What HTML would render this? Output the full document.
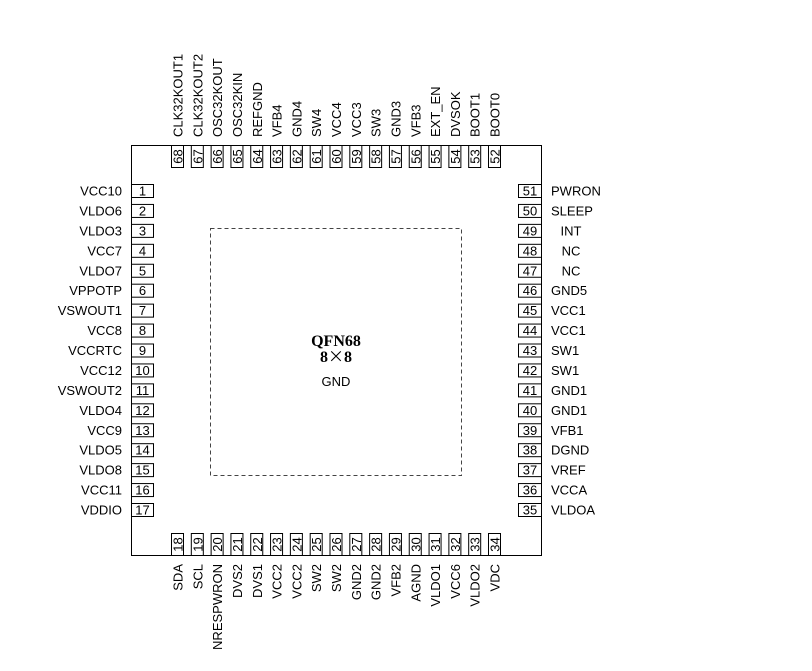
<!DOCTYPE html>
<html><head><meta charset="utf-8"><style>
html,body{margin:0;padding:0;background:#fff;}
svg{display:block;font-family:"Liberation Sans",Arial,sans-serif;}
</style></head><body>
<svg id="chip" width="812" height="671" viewBox="0 0 812 671">
<rect x="131.5" y="145.5" width="410" height="410" fill="none" stroke="#000" stroke-width="1"/>
<rect x="210.5" y="228.5" width="251" height="247" fill="none" stroke="#444" stroke-width="1" stroke-dasharray="4,3"/>
<text x="336" y="346" text-anchor="middle" font-family="'Liberation Serif',serif" font-weight="bold" font-size="16">QFN68</text>
<text x="336" y="362" text-anchor="middle" font-family="'Liberation Serif','Noto Serif CJK SC',serif" font-weight="bold" font-size="16">8<tspan font-family="'Noto Sans CJK SC',sans-serif" font-weight="normal">×</tspan>8</text>
<text x="336" y="386" text-anchor="middle" font-size="13">GND</text>
<g id="pins"></g>
</svg>
<script>
const leftPins=["VCC10","VLDO6","VLDO3","VCC7","VLDO7","VPPOTP","VSWOUT1","VCC8","VCCRTC","VCC12","VSWOUT2","VLDO4","VCC9","VLDO5","VLDO8","VCC11","VDDIO"];
const bottomPins=["SDA","SCL","NRESPWRON","DVS2","DVS1","VCC2","VCC2","SW2","SW2","GND2","GND2","VFB2","AGND","VLDO1","VCC6","VLDO2","VDC"];
const rightPins=["VLDOA","VCCA","VREF","DGND","VFB1","GND1","GND1","SW1","SW1","VCC1","VCC1","GND5","NC","NC","INT","SLEEP","PWRON"];
const topPins=["BOOT0","BOOT1","DVSOK","EXT_EN","VFB3","GND3","SW3","VCC3","VCC4","SW4","GND4","VFB4","REFGND","OSC32KIN","OSC32KOUT","CLK32KOUT2","CLK32KOUT1"];
const NS="http://www.w3.org/2000/svg";
const g=document.getElementById('pins');
function mk(tag,attrs,txt){const e=document.createElementNS(NS,tag);for(const k in attrs)e.setAttribute(k,attrs[k]);if(txt!==undefined)e.textContent=txt;g.appendChild(e);return e;}
const pitchV=(503-184)/16, pitchH=(488-171)/16;
leftPins.forEach((n,i)=>{const y=184+i*pitchV;
 const b=mk('rect',{x:131.5,y:y+0.5,width:22,height:13,fill:'#fff',stroke:'#000'});
 
 
 const t=mk('text',{x:142.5,y:y+11.5,'text-anchor':'middle','font-size':13},String(i+1));
 
 
 const l=mk('text',{x:122,y:y+11.5,'text-anchor':'end','font-size':13},n);
 
 
});
rightPins.forEach((n,i)=>{const y=503-i*pitchV;
 const b=mk('rect',{x:518.5,y:y+0.5,width:23,height:13,fill:'#fff',stroke:'#000'});
 
 
 const t=mk('text',{x:530,y:y+11.5,'text-anchor':'middle','font-size':13},String(35+i));
 
 
 let attrs={x:551,y:y+11.5,'font-size':13};
 if(n==='INT'||n==='NC'){attrs.x=571;attrs['text-anchor']='middle';}
 const l=mk('text',attrs,n);
 
 
});
topPins.forEach((n,i)=>{const x=488-i*pitchH;
 const b=mk('rect',{x:x+0.5,y:145.5,width:12,height:22,fill:'#fff',stroke:'#000'});
 
 
 const t=mk('text',{x:0,y:0,'text-anchor':'middle','font-size':13,transform:`translate(${x+11.5},156.5) rotate(-90)`},String(52+i));
 
 
 const l=mk('text',{x:0,y:0,'font-size':13,transform:`translate(${x+11.5},137) rotate(-90)`},n);
 
 
});
bottomPins.forEach((n,i)=>{const x=171+i*pitchH;
 const b=mk('rect',{x:x+0.5,y:533.5,width:12,height:22,fill:'#fff',stroke:'#000'});
 
 
 const t=mk('text',{x:0,y:0,'text-anchor':'middle','font-size':13,transform:`translate(${x+11.5},544.5) rotate(-90)`},String(18+i));
 
 
 const l=mk('text',{x:0,y:0,'font-size':13,'text-anchor':'end',transform:`translate(${x+11.5},564) rotate(-90)`},n);
 
 
});
</script>
</body></html>
